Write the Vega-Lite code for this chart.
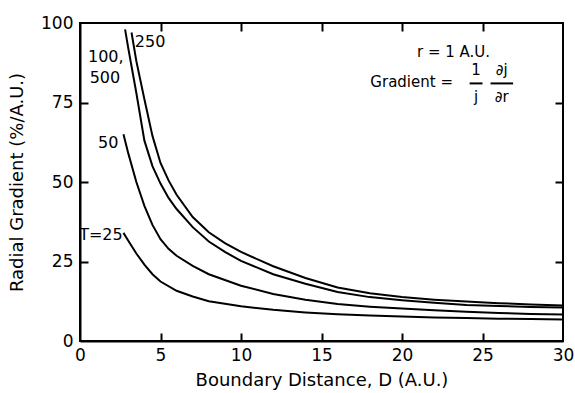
{
  "$schema": "https://vega.github.io/schema/vega-lite/v6.json",
  "autosize": "none",
  "width": 483,
  "height": 318,
  "padding": {"left": 80, "top": 23, "right": 12, "bottom": 52},
  "background": "white",
  "config": {
    "font": "DejaVu Sans",
    "view": {"stroke": "black", "strokeWidth": 2},
    "axis": {"grid": false, "domainColor": "black", "domainWidth": 2, "tickColor": "black", "tickWidth": 2, "labelColor": "black", "titleColor": "black", "labelFont": "DejaVu Sans", "titleFont": "DejaVu Sans", "labelFontSize": 17, "titleFontSize": 18, "titleFontWeight": "normal", "labelFlush": false, "labelOverlap": false}
  },
  "datasets": {
    "curves": [
      {"T": "25", "D": 2.7, "G": 34}, {"T": "25", "D": 3.0, "G": 31.5}, {"T": "25", "D": 3.5, "G": 27.5}, {"T": "25", "D": 4.0, "G": 24}, {"T": "25", "D": 4.5, "G": 21}, {"T": "25", "D": 5, "G": 18.7}, {"T": "25", "D": 6, "G": 15.8}, {"T": "25", "D": 7, "G": 14}, {"T": "25", "D": 8, "G": 12.5}, {"T": "25", "D": 10, "G": 10.9}, {"T": "25", "D": 12, "G": 9.8}, {"T": "25", "D": 14, "G": 9}, {"T": "25", "D": 16, "G": 8.4}, {"T": "25", "D": 18, "G": 8}, {"T": "25", "D": 20, "G": 7.7}, {"T": "25", "D": 22, "G": 7.4}, {"T": "25", "D": 24, "G": 7.2}, {"T": "25", "D": 26, "G": 7}, {"T": "25", "D": 28, "G": 6.9}, {"T": "25", "D": 30, "G": 6.8},
      {"T": "50", "D": 2.7, "G": 65}, {"T": "50", "D": 3.0, "G": 59}, {"T": "50", "D": 3.5, "G": 50}, {"T": "50", "D": 4.0, "G": 42.5}, {"T": "50", "D": 4.5, "G": 36.5}, {"T": "50", "D": 5, "G": 32}, {"T": "50", "D": 5.5, "G": 29}, {"T": "50", "D": 6, "G": 26.8}, {"T": "50", "D": 7, "G": 23.6}, {"T": "50", "D": 8, "G": 21}, {"T": "50", "D": 10, "G": 17.4}, {"T": "50", "D": 12, "G": 14.8}, {"T": "50", "D": 14, "G": 13}, {"T": "50", "D": 16, "G": 11.6}, {"T": "50", "D": 18, "G": 10.8}, {"T": "50", "D": 20, "G": 10.2}, {"T": "50", "D": 22, "G": 9.7}, {"T": "50", "D": 24, "G": 9.2}, {"T": "50", "D": 26, "G": 8.8}, {"T": "50", "D": 28, "G": 8.5}, {"T": "50", "D": 30, "G": 8.3},
      {"T": "100", "D": 2.8, "G": 98}, {"T": "100", "D": 3.0, "G": 92}, {"T": "100", "D": 3.5, "G": 78}, {"T": "100", "D": 4.0, "G": 63}, {"T": "100", "D": 4.5, "G": 55}, {"T": "100", "D": 5, "G": 49.5}, {"T": "100", "D": 5.5, "G": 45}, {"T": "100", "D": 6, "G": 41.5}, {"T": "100", "D": 7, "G": 35.8}, {"T": "100", "D": 8, "G": 31.3}, {"T": "100", "D": 9, "G": 28}, {"T": "100", "D": 10, "G": 25.2}, {"T": "100", "D": 12, "G": 21}, {"T": "100", "D": 14, "G": 18}, {"T": "100", "D": 16, "G": 15.4}, {"T": "100", "D": 18, "G": 13.8}, {"T": "100", "D": 20, "G": 12.8}, {"T": "100", "D": 22, "G": 12}, {"T": "100", "D": 24, "G": 11.3}, {"T": "100", "D": 26, "G": 11}, {"T": "100", "D": 28, "G": 10.7}, {"T": "100", "D": 30, "G": 10.5},
      {"T": "250", "D": 3.2, "G": 97}, {"T": "250", "D": 3.5, "G": 88}, {"T": "250", "D": 4.0, "G": 76}, {"T": "250", "D": 4.5, "G": 64.5}, {"T": "250", "D": 5, "G": 56}, {"T": "250", "D": 5.5, "G": 50.5}, {"T": "250", "D": 6, "G": 46}, {"T": "250", "D": 7, "G": 39}, {"T": "250", "D": 8, "G": 34.2}, {"T": "250", "D": 9, "G": 30.8}, {"T": "250", "D": 10, "G": 28}, {"T": "250", "D": 12, "G": 23.5}, {"T": "250", "D": 14, "G": 19.8}, {"T": "250", "D": 16, "G": 16.8}, {"T": "250", "D": 18, "G": 15}, {"T": "250", "D": 20, "G": 13.8}, {"T": "250", "D": 22, "G": 13}, {"T": "250", "D": 24, "G": 12.4}, {"T": "250", "D": 26, "G": 11.9}, {"T": "250", "D": 28, "G": 11.5}, {"T": "250", "D": 30, "G": 11.2}
    ],
    "labels": [
      {"D": 4.35, "G": 94, "label": "250"},
      {"D": 1.6, "G": 89.4, "label": "100,"},
      {"D": 1.55, "G": 82.8, "label": "500"},
      {"D": 1.75, "G": 62.3, "label": "50"},
      {"D": 1.3, "G": 33.3, "label": "T=25"}
    ],
    "notes": [
      {"D": 23.2, "G": 90.8, "label": "r = 1 A.U."},
      {"D": 20.6, "G": 81.3, "label": "Gradient ="},
      {"D": 24.6, "G": 85.2, "label": "1"},
      {"D": 24.6, "G": 76.8, "label": "j"},
      {"D": 26.2, "G": 85.2, "label": "∂j"},
      {"D": 26.2, "G": 76.8, "label": "∂r"}
    ],
    "bars": [
      {"D": 24.2, "D2": 25.0, "G": 81.0},
      {"D": 25.5, "D2": 26.9, "G": 81.0}
    ]
  },
  "layer": [
    {
      "data": {"name": "curves"},
      "mark": {"type": "line", "color": "black", "strokeWidth": 2},
      "encoding": {
        "x": {"field": "D", "type": "quantitative", "scale": {"domain": [0, 30], "nice": false}, "axis": {"orient": "bottom", "values": [0, 5, 10, 15, 20, 25, 30], "ticks": false, "labelPadding": 6, "title": "Boundary Distance, D (A.U.)", "titlePadding": 8}},
        "y": {"field": "G", "type": "quantitative", "scale": {"domain": [0, 100], "nice": false}, "axis": {"orient": "left", "values": [0, 25, 50, 75, 100], "ticks": false, "labelPadding": 7, "title": "Radial Gradient (%/A.U.)", "titlePadding": 14}},
        "detail": {"field": "T"}
      }
    },
    {
      "data": {"name": "curves"},
      "mark": {"type": "line", "strokeOpacity": 0},
      "encoding": {
        "x": {"field": "D", "type": "quantitative", "scale": {"domain": [0, 30], "nice": false}, "axis": {"orient": "bottom", "values": [5, 10, 15, 20, 25], "domain": false, "ticks": true, "tickSize": -8, "labels": false, "title": null, "zindex": 2}},
        "y": {"field": "G", "type": "quantitative", "scale": {"domain": [0, 100], "nice": false}, "axis": {"orient": "left", "values": [25, 50, 75], "domain": false, "ticks": true, "tickSize": -8, "labels": false, "title": null, "zindex": 2}},
        "detail": {"field": "T"}
      }
    },
    {
      "data": {"name": "curves"},
      "mark": {"type": "line", "strokeOpacity": 0},
      "encoding": {
        "x": {"field": "D", "type": "quantitative", "scale": {"domain": [0, 30], "nice": false}, "axis": {"orient": "top", "values": [5, 10, 15, 20, 25], "domain": false, "ticks": true, "tickSize": -8, "labels": false, "title": null, "zindex": 2}},
        "y": {"field": "G", "type": "quantitative", "scale": {"domain": [0, 100], "nice": false}, "axis": {"orient": "right", "values": [25, 50, 75], "domain": false, "ticks": true, "tickSize": -8, "labels": false, "title": null, "zindex": 2}},
        "detail": {"field": "T"}
      }
    },
    {
      "data": {"name": "labels"},
      "mark": {"type": "text", "fontSize": 16, "color": "black", "baseline": "middle", "align": "center", "font": "DejaVu Sans"},
      "encoding": {
        "x": {"field": "D", "type": "quantitative", "axis": null},
        "y": {"field": "G", "type": "quantitative", "axis": null},
        "text": {"field": "label"}
      }
    },
    {
      "data": {"name": "notes"},
      "mark": {"type": "text", "fontSize": 15, "color": "black", "baseline": "middle", "align": "center", "font": "DejaVu Sans"},
      "encoding": {
        "x": {"field": "D", "type": "quantitative", "axis": null},
        "y": {"field": "G", "type": "quantitative", "axis": null},
        "text": {"field": "label"}
      }
    },
    {
      "data": {"name": "bars"},
      "mark": {"type": "rule", "color": "black", "strokeWidth": 2},
      "encoding": {
        "x": {"field": "D", "type": "quantitative", "axis": null},
        "x2": {"field": "D2"},
        "y": {"field": "G", "type": "quantitative", "axis": null}
      }
    }
  ],
  "resolve": {"axis": {"x": "independent", "y": "independent"}}
}
